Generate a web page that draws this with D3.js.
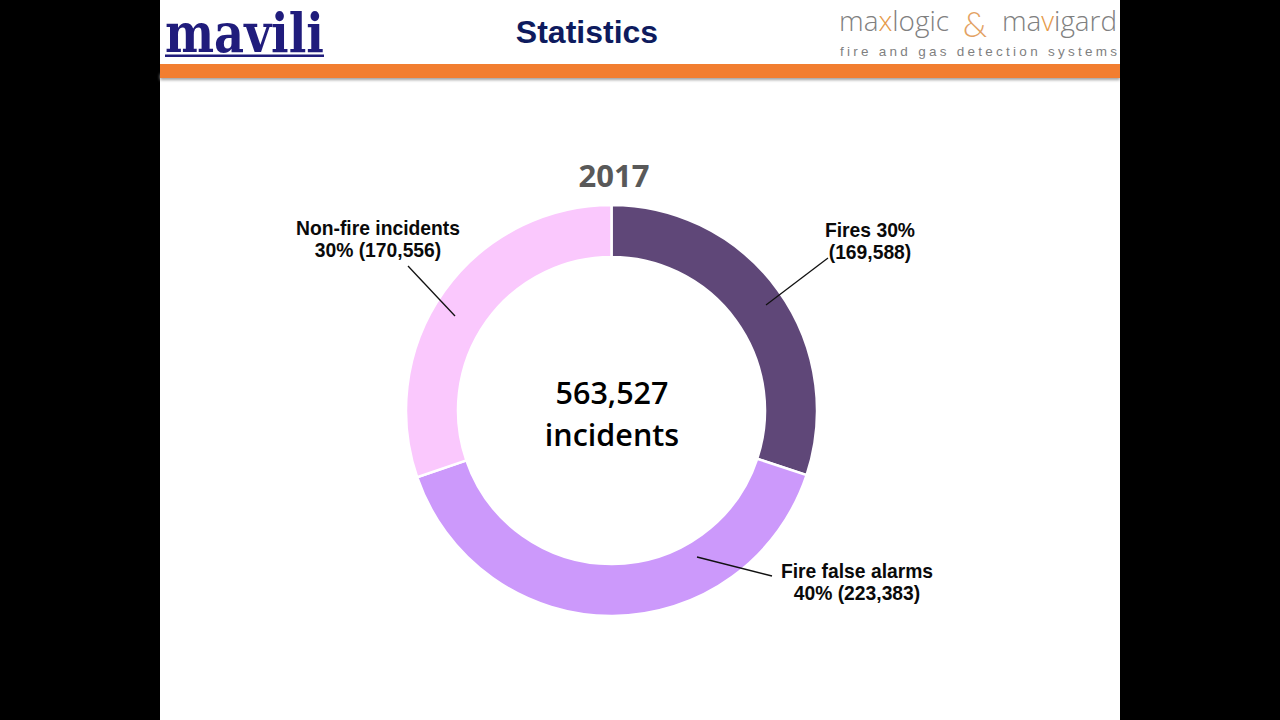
<!DOCTYPE html>
<html>
<head>
<meta charset="utf-8">
<title>Statistics</title>
<style>
  html, body { margin: 0; padding: 0; background: #000; }
  svg { display: block; }
</style>
</head>
<body>
<div id="my_dataviz"></div>
<script src="https://d3js.org/d3.v7.min.js"></script>
<script>

// data
var categories = ["Fires", "Fire false alarms", "Non-fire incidents"];
var incidents = [169588, 223383, 170556];
var colours = ["#5f4778", "#cc99fb", "#fac8fd"];
var labelLines = [
  ["Fires 30%", "(169,588)"],
  ["Fire false alarms", "40% (223,383)"],
  ["Non-fire incidents", "30% (170,556)"]
];
var centreLines = ["563,527", "incidents"];

// page size and slide area
var width = 1280, height = 720;
var slideLeft = 160, slideWidth = 960;
var cx = 611.5, cy = 410.5, outer = 205.5, inner = 153.5;

// label blocks and their leader lines, one per category
var labelPos = [[870, 237], [857, 578], [378, 235]];
var leaders = [
  [[828, 258], [766, 305]],
  [[772, 576], [697, 557]],
  [[408, 266], [455, 316]]
];

var svg = d3.select("#my_dataviz")
  .append("svg")
    .attr("width", width)
    .attr("height", height);

var defs = svg.append("defs");
var blur = defs.append("filter").attr("id", "soft")
  .attr("x", "-5%").attr("y", "-50%").attr("width", "110%").attr("height", "300%");
blur.append("feGaussianBlur").attr("stdDeviation", 1.6);

svg.append("rect")
  .attr("x", slideLeft).attr("y", 0)
  .attr("width", slideWidth).attr("height", height)
  .attr("fill", "#fff");

// header band with its soft shadow
svg.append("rect")
  .attr("x", slideLeft).attr("y", 74)
  .attr("width", slideWidth).attr("height", 6)
  .attr("fill", "#a0a0a0")
  .attr("filter", "url(#soft)");
svg.append("rect")
  .attr("x", slideLeft).attr("y", 64)
  .attr("width", slideWidth).attr("height", 14)
  .attr("fill", "#f27e30");

// keep the blur from spilling onto the black margin
svg.append("rect")
  .attr("x", slideLeft + slideWidth).attr("y", 60)
  .attr("width", 10).attr("height", 30)
  .attr("fill", "#000");

// left logo
svg.append("text")
  .attr("x", 165).attr("y", 52)
  .attr("textLength", 159)
  .attr("lengthAdjust", "spacingAndGlyphs")
  .style("font", "bold 55px 'DejaVu Serif'")
  .style("fill", "#201c7c")
  .text("mavili");
svg.append("rect")
  .attr("x", 165).attr("y", 54.5)
  .attr("width", 159).attr("height", 2.5)
  .attr("fill", "#201c7c");

// slide title
svg.append("text")
  .attr("x", 587).attr("y", 43)
  .attr("text-anchor", "middle")
  .style("font", "bold 32px 'Liberation Sans'")
  .style("fill", "#0e1b5e")
  .text("Statistics");

// right logo
var logo = svg.append("g").style("font-family", "'Open Sans'").style("font-weight", 300);
var maxlogic = logo.append("text")
  .attr("x", 839).attr("y", 31)
  .attr("textLength", 110)
  .attr("lengthAdjust", "spacingAndGlyphs")
  .style("font-size", "28px")
  .style("fill", "#808080");
maxlogic.append("tspan").text("ma");
maxlogic.append("tspan").style("fill", "#e69a4a").text("x");
maxlogic.append("tspan").text("logic");
var mavigard = logo.append("text")
  .attr("x", 1002).attr("y", 31)
  .attr("textLength", 115)
  .attr("lengthAdjust", "spacingAndGlyphs")
  .style("font-size", "28px")
  .style("fill", "#808080");
mavigard.append("tspan").text("ma");
mavigard.append("tspan").style("fill", "#e69a4a").text("v");
mavigard.append("tspan").text("igard");
logo.append("text")
  .attr("x", 975).attr("y", 37)
  .attr("text-anchor", "middle")
  .style("font", "300 35px Lato")
  .style("fill", "#e3a263")
  .text("&");
logo.append("text")
  .attr("x", 840).attr("y", 56)
  .attr("textLength", 277)
  .style("font", "13.5px 'Liberation Sans'")
  .style("fill", "#7f7f7f")
  .text("fire and gas detection systems");

// chart heading
svg.append("text")
  .attr("x", 614).attr("y", 187)
  .attr("text-anchor", "middle")
  .style("font", "700 31px 'Open Sans'")
  .style("fill", "#595959")
  .text("2017");

// the ring
var pie = d3.pie().sort(null).value(function(d) { return d; });
var arc = d3.arc().innerRadius(inner).outerRadius(outer);
var chart = svg.append("g")
  .attr("transform", "translate(" + cx + "," + cy + ")");

chart.selectAll("path")
  .data(pie(incidents))
  .enter()
  .append("path")
    .attr("d", arc)
    .attr("fill", function(d, i) { return colours[i]; })
    .attr("stroke", "#fff")
    .attr("stroke-width", 2.5)
    .attr("data-name", function(d, i) { return categories[i]; });

// centre total
svg.selectAll(".centre")
  .data(centreLines)
  .enter()
  .append("text")
    .attr("class", "centre")
    .attr("x", 612)
    .attr("y", function(d, i) { return 404 + i * 42; })
    .attr("text-anchor", "middle")
    .style("font", "600 30.5px 'Open Sans'")
    .style("fill", "#000")
    .text(function(d) { return d; });

// leader lines
svg.selectAll(".leader")
  .data(leaders)
  .enter()
  .append("line")
    .attr("class", "leader")
    .attr("x1", function(d) { return d[0][0]; })
    .attr("y1", function(d) { return d[0][1]; })
    .attr("x2", function(d) { return d[1][0]; })
    .attr("y2", function(d) { return d[1][1]; })
    .attr("stroke", "#111")
    .attr("stroke-width", 1.3);

// labels
labelLines.forEach(function(lines, i) {
  svg.selectAll(".label" + i)
    .data(lines)
    .enter()
    .append("text")
      .attr("class", "label" + i)
      .attr("x", labelPos[i][0])
      .attr("y", function(d, j) { return labelPos[i][1] + j * 22; })
      .attr("text-anchor", "middle")
      .style("font", "bold 19.3px 'Liberation Sans'")
      .style("fill", "#0a0a0a")
      .text(function(d) { return d; });
});

</script>
</body>
</html>
